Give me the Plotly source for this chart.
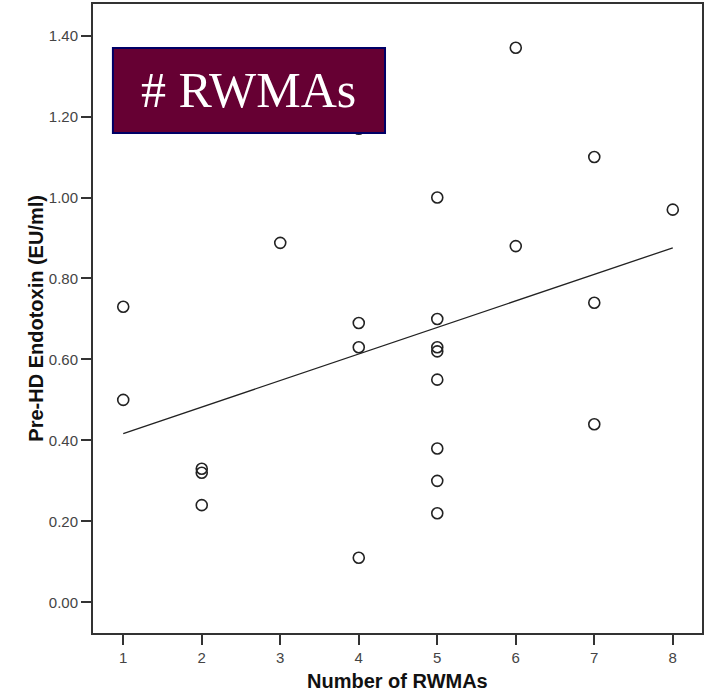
import numpy as np
import plotly.graph_objects as go

# Data
rwmas = [1, 1, 2, 2, 2, 3, 4, 4, 4, 4, 5, 5, 5, 5, 5, 5, 5, 5, 6, 6, 7, 7, 7, 8]
endotoxin = [0.73, 0.50, 0.33, 0.32, 0.24, 0.888, 1.17, 0.69, 0.63, 0.11,
             1.00, 0.70, 0.63, 0.62, 0.55, 0.38, 0.30, 0.22,
             1.37, 0.88, 1.10, 0.74, 0.44, 0.97]
x_ticks = [1, 2, 3, 4, 5, 6, 7, 8]
y_ticks = [0.0, 0.2, 0.4, 0.6, 0.8, 1.0, 1.2, 1.4]
y_ticklabels = ["0.00", "0.20", "0.40", "0.60", "0.80", "1.00", "1.20", "1.40"]
box_label = "# RWMAs"
x_title = "Number of RWMAs"
y_title = "Pre-HD Endotoxin (EU/ml)"

slope, intercept = np.polyfit(rwmas, endotoxin, 1)
fit_x = [min(rwmas), max(rwmas)]
fit_y = [intercept + slope * v for v in fit_x]

fig = go.Figure()
fig.add_trace(go.Scatter(
    x=fit_x, y=fit_y, mode="lines",
    line=dict(color="#222222", width=1.3), showlegend=False, hoverinfo="skip"))
fig.add_trace(go.Scatter(
    x=rwmas, y=endotoxin, mode="markers",
    marker=dict(symbol="circle-open", size=11, color="#222222", line=dict(width=1.6)),
    showlegend=False))

axis_common = dict(
    showgrid=False, zeroline=False, showline=True, linecolor="#333333", linewidth=2,
    mirror=True, ticks="outside", ticklen=10, tickwidth=2, tickcolor="#333333",
    tickfont=dict(family="Liberation Sans, Arial, sans-serif", size=15, color="#444444"),
)

fig.update_layout(
    width=706, height=692,
    margin=dict(l=93, r=2, t=3, b=59),
    paper_bgcolor="white", plot_bgcolor="white",
    xaxis=dict(range=[0.615, 8.372], tickvals=x_ticks, ticktext=[str(v) for v in x_ticks],
               **axis_common),
    yaxis=dict(range=[-0.0758, 1.478], tickvals=y_ticks, ticktext=y_ticklabels,
               **axis_common),
    shapes=[dict(type="rect", xref="paper", yref="paper",
                 x0=0.0327, x1=0.4795, y0=0.7951, y1=0.9301,
                 fillcolor="#660033", line=dict(color="#000066", width=2), layer="above")],
    annotations=[
        dict(text=box_label, xref="paper", yref="paper", x=0.2561, y=0.8626,
             xanchor="center", yanchor="middle", showarrow=False,
             font=dict(family="Liberation Serif, Times New Roman, serif", size=50, color="white")),
        dict(text="<b>" + x_title + "</b>", xref="paper", yref="paper", x=0.5, y=-0.0767,
             xanchor="center", yanchor="middle", showarrow=False,
             font=dict(family="Liberation Sans, Arial, sans-serif", size=20, color="#111111")),
        dict(text="<b>" + y_title + "</b>", xref="paper", yref="paper", x=-0.0949, y=0.5,
             xanchor="center", yanchor="middle", showarrow=False, textangle=-90,
             font=dict(family="Liberation Sans, Arial, sans-serif", size=20, color="#111111")),
    ],
)

fig.write_html("out.html", config={"displayModeBar": False},
               post_script="document.body.style.margin='0px';")
